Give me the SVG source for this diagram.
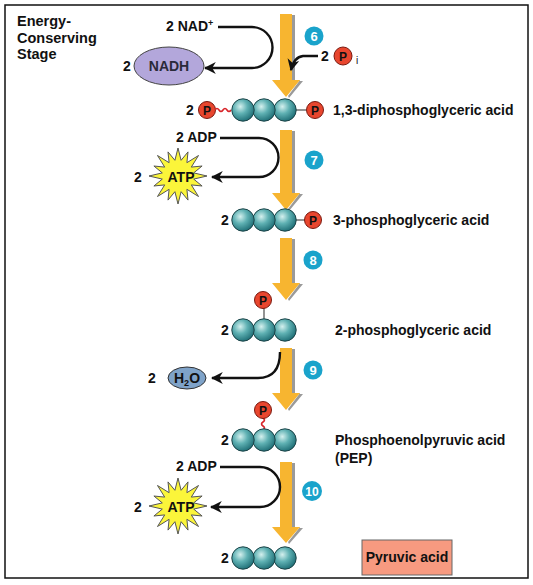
<svg xmlns="http://www.w3.org/2000/svg" width="533" height="585" viewBox="0 0 533 585">
<style>
text{font-family:"Liberation Sans",Arial,sans-serif;font-weight:bold;fill:#111}
.lbl{font-size:14px}
.title{font-size:14.5px}
.ball{fill:url(#ballg);stroke:#1d4448;stroke-width:1}
.p{fill:#e8462e;stroke:#7a1a10;stroke-width:1}
.pt{font-size:12px;text-anchor:middle}
.step{fill:#1aa3cb}
.stept{font-size:13px;fill:#fff;text-anchor:middle}
.flow{fill:#f7b530}
.shadow{fill:#9a9a9a}
.conn{fill:none;stroke:#111;stroke-width:2.4}
.wave{fill:none;stroke:#d8252a;stroke-width:1.6}
.bond{stroke:#666;stroke-width:1.4}
.star{fill:#fbf53a;stroke:#555;stroke-width:1}
</style>
<defs>
<radialGradient id="ballg" cx="38%" cy="35%" r="70%">
<stop offset="0" stop-color="#d4f0ee"/>
<stop offset="0.45" stop-color="#5fb1b3"/>
<stop offset="1" stop-color="#1b6a72"/>
</radialGradient>
<marker id="ah" viewBox="0 0 10 10" refX="9" refY="5" markerWidth="5" markerHeight="5" orient="auto" markerUnits="strokeWidth">
<path d="M0,0 L10,5 L0,10 L3,5 Z" fill="#111"/>
</marker>
<polygon id="starshape" class="star" points="29,0 15.7,3.1 24.1,10 13.3,8.9 20.5,20.5 8.9,13.3 10,24.1 3.1,15.7 0,28 -3.1,15.7 -10,24.1 -8.9,13.3 -20.5,20.5 -13.3,8.9 -24.1,10 -15.7,3.1 -29,0 -15.7,-3.1 -24.1,-10 -13.3,-8.9 -20.5,-20.5 -8.9,-13.3 -10,-24.1 -3.1,-15.7 0,-28 3.1,-15.7 10,-24.1 8.9,-13.3 20.5,-20.5 13.3,-8.9 24.1,-10 15.7,-3.1"/>
<g id="balls3">
<circle class="ball" cx="285" cy="0" r="11.2"/>
<circle class="ball" cx="264" cy="0" r="11.2"/>
<circle class="ball" cx="243" cy="0" r="11.2"/>
</g>
</defs>
<rect x="0" y="0" width="533" height="585" fill="#fff"/>
<rect x="5" y="5" width="523" height="573" fill="none" stroke="#111" stroke-width="1.5"/>

<g id="title">
<text class="title" x="17" y="26">Energy-</text>
<text class="title" x="17" y="43">Conserving</text>
<text class="title" x="17" y="59">Stage</text>
</g>

<g id="connectors">
<g id="flow-arrows">
<path class="shadow" d="M292,15 H295 V81 H303 L289,98 L288,96 L300,80 H292 Z"/>
<path class="flow" d="M280,14 H292 V80 H300 L286,97 L272,80 H280 Z"/>
<path class="shadow" d="M292,131 H295 V194 H303 L289,211 L288,209 L300,193 H292 Z"/>
<path class="flow" d="M280,130 H292 V193 H300 L286,210 L272,193 H280 Z"/>
<path class="shadow" d="M292,239 H295 V284 H303 L289,301 L288,299 L300,283 H292 Z"/>
<path class="flow" d="M280,238 H292 V283 H300 L286,300 L272,283 H280 Z"/>
<path class="shadow" d="M292,349 H295 V394 H303 L289,411 L288,409 L300,393 H292 Z"/>
<path class="flow" d="M280,348 H292 V393 H300 L286,410 L272,393 H280 Z"/>
<path class="shadow" d="M292,463 H295 V528 H303 L289,544 L288,542 L300,527 H292 Z"/>
<path class="flow" d="M280,462 H292 V527 H300 L286,543 L272,527 H280 Z"/>
</g>
<path class="conn" marker-end="url(#ah)" d="M218,27 H252 A20.5,20.5 0 0 1 252,68 H205"/>
<path class="conn" marker-end="url(#ah)" d="M318,56 H303 Q294,57 291,70"/>
<path class="conn" marker-end="url(#ah)" d="M220,138 H259 A19.5,19.5 0 0 1 259,177 H212"/>
<path class="conn" marker-end="url(#ah)" d="M280,352 Q280,378 258,378 H212"/>
<path class="conn" marker-end="url(#ah)" d="M220,467 H260 A20,20 0 0 1 260,507 H211"/>
</g>

<g id="step6"><circle class="step" cx="314" cy="36" r="9.5"/><text class="stept" x="314" y="40.5">6</text></g>
<g id="step7"><circle class="step" cx="314" cy="160" r="9.5"/><text class="stept" x="314" y="164.5">7</text></g>
<g id="step8"><circle class="step" cx="313" cy="260" r="9.5"/><text class="stept" x="313" y="264.5">8</text></g>
<g id="step9"><circle class="step" cx="313" cy="370" r="9.5"/><text class="stept" x="313" y="374.5">9</text></g>
<g id="step10"><circle class="step" cx="312" cy="491" r="10"/><text class="stept" x="312" y="495.5" style="font-size:12px">10</text></g>

<g id="nad">
<text class="lbl" x="166" y="31">2 NAD<tspan font-size="9" dy="-5">+</tspan></text>
</g>
<g id="nadh">
<text class="lbl" x="123" y="71">2</text>
<ellipse cx="169" cy="66" rx="35" ry="19" fill="#b3a7db" stroke="#444" stroke-width="1"/>
<text class="lbl" x="169" y="71" text-anchor="middle" style="fill:#2a2a3a">NADH</text>
</g>
<g id="pi">
<text class="lbl" x="321" y="61">2</text>
<circle class="p" cx="343" cy="56" r="9"/>
<text class="pt" x="343" y="60.5">P</text>
<text x="356" y="64" style="font-size:10px;font-weight:normal">i</text>
</g>

<g id="diphosphoglycerate">
<text class="lbl" x="186" y="115">2</text>
<circle class="p" cx="207" cy="110" r="8.5"/>
<text class="pt" x="207" y="114.5">P</text>
<path class="wave" d="M215,110 q2,-3 4,0 t4,0 t4,0 t4,0"/>
<line class="bond" x1="296" y1="110" x2="306" y2="110"/>
<use href="#balls3" y="110"/>
<circle class="p" cx="315" cy="110" r="8.5"/>
<text class="pt" x="315" y="114.5">P</text>
<text class="lbl" x="333" y="115">1,3-diphosphoglyceric acid</text>
</g>

<g id="adp1"><text class="lbl" x="176" y="142">2 ADP</text></g>
<g id="atp1">
<text class="lbl" x="134" y="182">2</text>
<use href="#starshape" x="178" y="176"/>
<text class="lbl" x="181" y="182" text-anchor="middle">ATP</text>
</g>

<g id="phosphoglycerate3">
<text class="lbl" x="221" y="225">2</text>
<line class="bond" x1="296" y1="220" x2="305" y2="220"/>
<use href="#balls3" y="220"/>
<circle class="p" cx="313" cy="220" r="8.5"/>
<text class="pt" x="313" y="224.5">P</text>
<text class="lbl" x="333" y="225">3-phosphoglyceric acid</text>
</g>

<g id="phosphoglycerate2">
<text class="lbl" x="221" y="335">2</text>
<line class="bond" x1="264" y1="307" x2="264" y2="320"/>
<use href="#balls3" y="330"/>
<circle class="p" cx="263" cy="300" r="8.5"/>
<text class="pt" x="263" y="304.5">P</text>
<text class="lbl" x="335" y="335">2-phosphoglyceric acid</text>
</g>

<g id="water">
<text class="lbl" x="148" y="383">2</text>
<ellipse cx="187" cy="378" rx="19" ry="11" fill="#7fa3c9" stroke="#333" stroke-width="1"/>
<text class="lbl" x="187" y="383" text-anchor="middle">H<tspan font-size="9" dy="3">2</tspan><tspan dy="-3">O</tspan></text>
</g>

<g id="pep">
<text class="lbl" x="221" y="445">2</text>
<path class="wave" d="M263,418 q3,2 0,4 t0,4 t0,4"/>
<use href="#balls3" y="440"/>
<circle class="p" cx="263" cy="410" r="8.5"/>
<text class="pt" x="263" y="414.5">P</text>
<text class="lbl" x="335" y="445">Phosphoenolpyruvic acid</text>
<text class="lbl" x="335" y="463">(PEP)</text>
</g>

<g id="adp2"><text class="lbl" x="176" y="471">2 ADP</text></g>
<g id="atp2">
<text class="lbl" x="134" y="512">2</text>
<use href="#starshape" x="178" y="506"/>
<text class="lbl" x="181" y="512" text-anchor="middle">ATP</text>
</g>

<g id="pyruvate">
<text class="lbl" x="221" y="563">2</text>
<use href="#balls3" y="558"/>
<rect x="362" y="540" width="90" height="35" fill="#f79a80" stroke="#666" stroke-width="1"/>
<text class="lbl" x="407" y="562" text-anchor="middle">Pyruvic acid</text>
</g>
</svg>
